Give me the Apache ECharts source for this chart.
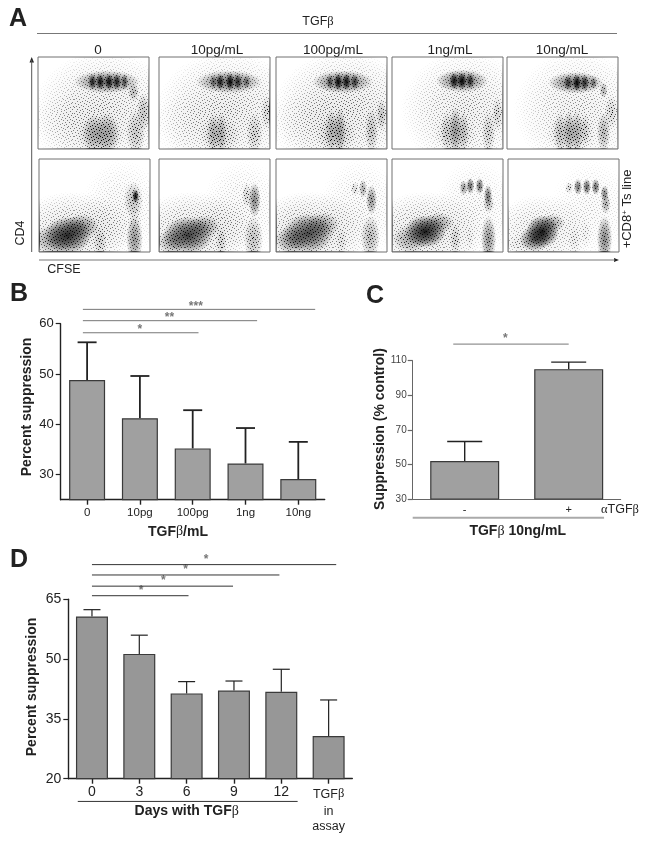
<!DOCTYPE html>
<html><head><meta charset="utf-8">
<style>html,body{margin:0;padding:0;background:#fff}#c{width:649px;height:842px;filter:blur(0.35px)}</style>
<script src="https://cdn.jsdelivr.net/npm/echarts@6/dist/echarts.min.js"></script>
</head><body><div id="c"></div>
<script>
// ---------- Panel A: density clusters [x%, y%, widthUnits, heightUnits, density]
const topZero = [[60,42,105,105,.12],[30,25,60,60,.06],[62,73,48,20,.6],[49,73,6,14,.8],[56,73,6,14,.85],[64,73,6,14,.85],[71,73,6,14,.8],[78,73,5,14,.65],[86,62,8,16,.35],[95,40,10,34,.3],[50,17,16,34,.36],[62,17,18,36,.4],[56,15,34,34,.22],[88,18,14,40,.28]];
const topTen = [[62,42,105,105,.12],[30,25,60,60,.05],[63,73,48,20,.6],[49,73,5,12,.55],[55,73,6,14,.8],[64,73,6,15,.9],[71,73,6,14,.75],[79,73,5,12,.55],[97,40,8,30,.2],[49,17,10,34,.36],[56,17,8,36,.36],[86,17,12,36,.24],[55,15,30,34,.18]];
const topHundred = [[62,42,105,105,.13],[30,25,60,60,.06],[60,73,44,20,.6],[48.5,73,5,13,.65],[56,73,6,15,.9],[63.5,73,6,15,.85],[71,73,6,14,.7],[95,37,8,28,.3],[50,20,10,38,.34],[57.5,20,9,40,.42],[86,20,10,40,.3],[54,16,30,34,.2]];
const topOne = [[66,42,95,105,.11],[63,74,38,20,.6],[56,74,7,15,.85],[63,74,7,15,.9],[70.5,74,6,14,.75],[95,38,8,30,.22],[87,18,10,38,.25],[50,19,10,36,.25],[57,20,9,42,.46],[64,19,9,36,.3],[57,17,30,34,.16]];
const topTenNg = [[64,42,95,105,.1],[62,72,40,19,.6],[55,72,6,13,.7],[63,72,6,15,.9],[70,72,6,14,.75],[78,72,5,11,.55],[87,64,6,14,.4],[94,40,10,30,.2],[48,18,10,36,.3],[56,18,9,38,.42],[63,18,9,38,.38],[70,21,8,28,.22],[87,18,10,36,.36],[58,16,36,34,.16]];
const lowZero = [[30,22,85,70,.14],[13,13,30,26,.45],[26,18,34,32,.8],[38,27,26,22,.5],[55,11,10,26,.22],[87,60,5,12,1],[85,56,14,32,.32],[86,14,12,40,.5],[75,45,60,90,.06],[86,35,10,30,.12],[60,30,50,50,.05]];
const lowTen = [[30,22,85,70,.14],[11,11,20,22,.4],[26,18,36,32,.75],[40,27,24,20,.45],[56,11,8,26,.22],[86,56,9,30,.55],[79,61,7,22,.22],[85,14,14,40,.32],[75,45,60,90,.06],[60,30,50,50,.05]];
const lowHundred = [[30,22,85,70,.15],[14,13,24,24,.5],[29,20,36,34,.72],[42,29,24,22,.42],[59,11,8,24,.14],[78.4,68,6,16,.42],[71,68,6,12,.2],[86,56,8,26,.5],[85,16,14,38,.36],[75,45,60,90,.06]];
const lowOne = [[30,22,85,70,.14],[16.5,14,26,24,.4],[30,22,30,28,.85],[42,31,22,18,.42],[57,14,8,28,.22],[70,15,6,22,.08],[64.5,69,6,13,.5],[70.5,71,6,14,.65],[79,71,6,14,.65],[86.5,61,6,18,.6],[87,52,8,16,.35],[87,14,11,40,.5],[75,45,60,90,.06]];
const lowTenNg = [[30,22,75,65,.11],[12,9,24,16,.1],[24,14,22,22,.65],[31,22,24,28,.85],[40,31,18,16,.4],[55,69,6,10,.22],[63,70,6,14,.62],[71,70,6,14,.68],[79,70,6,14,.65],[87,63,6,14,.55],[88,52,7,18,.42],[87,14,11,40,.55],[60,13,10,26,.1],[70,20,8,26,.07],[75,45,60,90,.05]];
const topClusters = [topZero, topTen, topHundred, topOne, topTenNg];
const lowClusters = [lowZero, lowTen, lowHundred, lowOne, lowTenNg];
const doseHeaders = ['0','10pg/mL','100pg/mL','1ng/mL','10ng/mL'];

// ---------- Panel B
const bCats = ['0','10pg','100pg','1ng','10ng'];
const bMeans = [48.8,41.2,35.2,32.2,29.1];
const bUppers = [56.3,49.6,42.8,39.25,36.5];
const bTicks = [30,40,50,60];
const bBrackets = [[-0.08,2.11,58.2,1.0,1],[-0.08,3.22,60.6,1.56,2],[-0.08,4.32,62.85,2.06,3]];
// ---------- Panel C
const cCats = ['-','+'];
const cMeans = [52,105.1];
const cUppers = [63.3,109.2];
const cTicks = [30,50,70,90,110];
const cBrackets = [[-0.11,1,119.6,0.39,1],[-0.5,1.34,19.2,0,0]];
// ---------- Panel D
const dCats = ['0','3','6','9','12','TGFβ\nin\nassay'];
const dMeans = [60.7,51.3,41.4,42.1,41.8,30.7];
const dUppers = [62.4,56,44.35,44.5,47.45,39.75];
const dTicks = [20,35,50,65];
const dBrackets = [[0,2.04,65.9,1.04,1],[0,2.98,68.3,1.51,1],[0,3.96,71.1,1.98,1],[0,5.16,73.7,2.41,1],[-0.3,4.345,14.3,0,0]];

// Speckle tile typed by hand: each row lists the columns where the cluster density shows through
const speckle = [[2,9,17,24,33],[5,13,20,29],[0,8,15,26,35],[3,11,19,23,31],[6,14,27,34],[1,10,18,22,30],[4,12,25,32,36],[7,16,21,28],[2,9,14,24,33],[5,19,26,30,35],[0,11,17,22],[3,8,13,28,32],[6,15,20,25,36],[1,10,23,29,34],[4,12,18,27],[7,16,21,31,35],[2,9,24,30],[0,5,14,19,26,33],[11,17,22,28],[3,8,13,25,36],[6,15,20,31,34],[1,10,18,27],[4,12,23,29,35],[7,16,21,32],[2,9,14,25,30],[0,5,19,26,33,36],[11,17,22,28],[3,8,13,24,31],[6,15,20,29,35],[1,10,18,27,34],[4,12,23,32],[7,16,21,26,30],[2,9,14,25,36],[0,5,19,28,33],[11,17,22,31],[3,8,13,24,29,35],[6,15,20,27]];

function grainCanvas(){
  const n = speckle.length, cv = document.createElement('canvas');
  cv.width = n; cv.height = n;
  const g = cv.getContext('2d');
  g.fillStyle='rgba(255,255,255,0.96)'; g.fillRect(0,0,n,n);
  speckle.forEach((row,j)=>row.forEach(i=>g.clearRect(i,j,1,1)));
  return cv;
}

const SANS = '"Liberation Sans", Arial, sans-serif';
const chart = echarts.init(document.getElementById('c'),null,{renderer:'canvas'});
const grids=[],xAxes=[],yAxes=[],series=[],graphics=[];
const soft = new echarts.graphic.RadialGradient(0.5,0.5,0.5,[{offset:0,color:'rgba(0,0,0,1)'},{offset:0.5,color:'rgba(0,0,0,0.6)'},{offset:1,color:'rgba(0,0,0,0)'}]);

const topBoxes = [[38,57,111,92],[159,57,111,92],[276,57,111,92],[392,57,111,92],[507,57,111,92]];
const lowBoxes = [[39,159,111,93],[159,159,111,93],[276,159,111,93],[392,159,111,93],[508,159,111,93]];
const grain = {image:grainCanvas(),repeat:'repeat'};

function addFlow(box,blobs){
  const gi=grids.length;
  grids.push({left:box[0],top:box[1],width:box[2],height:box[3],show:true,borderColor:'#707070',borderWidth:1,backgroundColor:'#fff',containLabel:false});
  xAxes.push({gridIndex:gi,type:'value',min:0,max:100,show:false});
  yAxes.push({gridIndex:gi,type:'value',min:0,max:100,show:false});
  const render=(op)=>(p,api)=>{
    const c=api.coord([api.value(0),api.value(1)]),s=api.size([api.value(2),api.value(3)]),o=op(api.value(4));
    return {type:'circle',shape:{cx:0,cy:0,r:10},x:c[0],y:c[1],scaleX:s[0]*0.062,scaleY:s[1]*0.062,style:{fill:soft,opacity:o}};
  };
  const common={type:'custom',xAxisIndex:xAxes.length-1,yAxisIndex:yAxes.length-1,silent:true,clip:true,animation:false,data:blobs};
  series.push(Object.assign({},common,{z:2,renderItem:render(d=>Math.min(1,d*5))}));
  series.push(Object.assign({},common,{z:4,renderItem:render(d=>Math.min(1,Math.pow(d,1.5)*1.15))}));
  graphics.push({type:'rect',shape:{x:box[0]+1,y:box[1]+1,width:box[2]-2,height:box[3]-2},style:{fill:grain},z:3,silent:true});
}
topBoxes.forEach((b,i)=>addFlow(b,topClusters[i]));
lowBoxes.forEach((b,i)=>addFlow(b,lowClusters[i]));

function addBars(o){
  const gi=grids.length;
  grids.push({left:o.left,top:o.top,width:o.width,height:o.height,containLabel:false});
  const catIdx=xAxes.length;
  xAxes.push({gridIndex:gi,type:'category',data:o.cats,axisLine:{onZero:false,lineStyle:{color:o.axisColor||'#222',width:o.axisW||1.4}},axisTick:{show:!o.noXTick,alignWithLabel:true,length:5,lineStyle:{color:'#222',width:o.axisW||1.4}},axisLabel:Object.assign({color:'#222',fontSize:o.xFont,fontFamily:SANS,margin:o.xMargin||7,interval:0},o.xLabel||{})});
  const valIdx=xAxes.length;
  xAxes.push({gridIndex:gi,type:'value',min:-0.5,max:o.cats.length-0.5,show:false});
  const yIdx=yAxes.length;
  yAxes.push({gridIndex:gi,type:'value',min:o.min,max:o.max,splitLine:{show:false},
    axisLine:{show:true,onZero:false,lineStyle:{color:o.axisColor||'#222',width:o.axisW||1.4}},
    axisTick:{show:true,length:5,customValues:o.ticks,lineStyle:{color:o.axisColor||'#222',width:1.2}},
    axisLabel:{customValues:o.ticks,color:o.yLabelColor||'#222',fontSize:o.yFont,fontFamily:SANS,margin:o.yMargin||7}});
  series.push({type:'bar',xAxisIndex:catIdx,yAxisIndex:yIdx,data:o.means,barWidth:o.barW,silent:true,animation:false,z:3,
    itemStyle:{color:o.fill,borderColor:'#3a3a3a',borderWidth:o.barBorder||1.2}});
  series.push({type:'custom',xAxisIndex:valIdx,yAxisIndex:yIdx,silent:true,animation:false,z:2,clip:false,
    data:o.means.map((m,i)=>[i,m,o.uppers[i]]),
    renderItem:(p,api)=>{
      const a=api.coord([api.value(0),api.value(1)]),b=api.coord([api.value(0),api.value(2)]);
      const s={stroke:'#222',lineWidth:o.errW};
      return {type:'group',children:[
        {type:'line',shape:{x1:b[0],y1:a[1],x2:b[0],y2:b[1]},style:s},
        {type:'line',shape:{x1:b[0]-o.cap/2,y1:b[1],x2:b[0]+o.cap/2,y2:b[1]},style:s}]};
    }});
  series.push({type:'custom',xAxisIndex:valIdx,yAxisIndex:yIdx,silent:true,animation:false,z:2,clip:false,
    data:o.brackets,
    renderItem:(p,api)=>{
      const a=api.coord([api.value(0),api.value(2)]),b=api.coord([api.value(1),api.value(2)]);
      const n=api.value(4);
      const kids=[{type:'line',shape:{x1:a[0],y1:a[1],x2:b[0],y2:b[1]},style:{stroke:n>0?o.ruleColor:(o.underColor||o.ruleColor),lineWidth:n>0?1:(o.underW||1)}}];
      if(n>0){const c=api.coord([api.value(3),api.value(2)]);
        kids.push({type:'text',style:{x:c[0],y:a[1]-o.starUp,text:'*'.repeat(n),fill:'#777',font:'bold 12px '+SANS,textAlign:'center',textVerticalAlign:'middle',align:'center',verticalAlign:'middle'}});}
      return {type:'group',children:kids};
    }});
}
const betaRich={a:{fontSize:12.5,fontFamily:SANS,lineHeight:19,color:'#222'},g:{fontSize:12.5,fontFamily:'"Liberation Serif", serif',lineHeight:19,color:'#222'},t:{fontSize:12.5,fontFamily:SANS,lineHeight:15.5,color:'#222'}};
addBars({left:60.7,top:323.7,width:264,height:176,cats:bCats,means:bMeans,uppers:bUppers,ticks:bTicks,brackets:bBrackets,min:25,max:60,barW:36,cap:19,errW:1.8,fill:'#a0a0a0',xFont:11.5,yFont:13,ruleColor:'#777',starUp:3});
addBars({left:412.7,top:360.7,width:208,height:138.3,cats:cCats,means:cMeans,uppers:cUppers,ticks:cTicks,brackets:cBrackets,min:30,max:110,barW:69,cap:35,errW:1.4,fill:'#a0a0a0',xFont:11,yFont:10,ruleColor:'#777',underColor:'#aaa',underW:2,starUp:5,axisW:1,axisColor:'#666',yLabelColor:'#444',noXTick:true,xMargin:5,yMargin:6});
addBars({left:68.3,top:599.3,width:284,height:179.4,cats:dCats,means:dMeans,uppers:dUppers,ticks:dTicks,brackets:dBrackets,min:20,max:65,barW:32,cap:17,errW:1.2,fill:'#979797',xFont:14,yFont:14,ruleColor:'#333',starUp:5,xMargin:6,
  xLabel:{formatter:v=>v.indexOf('\n')<0?v:'{a|TGF}{g|β}\n{t|in}\n{t|assay}',rich:betaRich}});

function T(text,x,y,font,extra){
  const st=Object.assign({text,font,fill:'#222',textAlign:'center',textVerticalAlign:'middle',align:'center',verticalAlign:'middle'},(extra&&extra.style)||{});
  const el={type:'text',x,y,z:6,silent:true,style:st};
  if(extra&&extra.rotation)el.rotation=extra.rotation;
  graphics.push(el);
}
const serifRich=(size,w)=>({n:{font:(w||'normal')+' '+size+'px '+SANS,fill:'#222'},g:{font:'normal '+size+'px "Liberation Serif", serif',fill:'#222'}});
// panel letters
T('A',18,19,'bold 25px '+SANS);T('B',19,294,'bold 25px '+SANS);T('C',375,296,'bold 25px '+SANS);T('D',19,560,'bold 25px '+SANS);
// panel A texts
T('{n|TGF}{g|β}',318,22,'12.5px '+SANS,{style:{rich:serifRich(12.5)}});
doseHeaders.forEach((h,i)=>T(h,[98,217,333,450,562][i],50,'13.5px '+SANS));
T('CD4',21,233,'12.5px '+SANS,{rotation:Math.PI/2});
T('CFSE',64,270,'12.5px '+SANS);
T('{n|+CD8}{s|+}{n| Ts line}',627,209,'13px '+SANS,{rotation:Math.PI/2,style:{rich:{n:{font:'13px '+SANS,fill:'#222'},s:{font:'8px '+SANS,fill:'#222',verticalAlign:'top'}}}});
const rule=(x1,y1,x2,y2,c,w)=>graphics.push({type:'line',shape:{x1,y1,x2,y2},style:{stroke:c,lineWidth:w||1},silent:true,z:1});
rule(37,33.5,617,33.5,'#777');
rule(31.7,60,31.7,252,'#555');
rule(39,260,615,260,'#777');
graphics.push({type:'polygon',shape:{points:[[31.7,57],[29.5,62.5],[34,62.5]]},style:{fill:'#222'},silent:true});
graphics.push({type:'polygon',shape:{points:[[619,260],[614,258],[614,262]]},style:{fill:'#222'},silent:true});
// axis titles
T('Percent suppression',26.7,407,'bold 14px '+SANS,{rotation:Math.PI/2});
T('{n|TGF}{g|β}{n|/mL}',178,531.7,'bold 14px '+SANS,{style:{rich:serifRich(14,'bold')}});
T('Suppression (% control)',380,429,'bold 14px '+SANS,{rotation:Math.PI/2});
T('{n|TGF}{g|β}{n| 10ng/mL}',517.7,531,'bold 14px '+SANS,{style:{rich:serifRich(14,'bold')}});
T('{g|α}{n|TGF}{g|β}',620,509.5,'12.5px '+SANS,{style:{rich:serifRich(12.5)}});
T('Percent suppression',32.3,687,'bold 14px '+SANS,{rotation:Math.PI/2});
T('{n|Days with TGF}{g|β}',186.7,811,'bold 14px '+SANS,{style:{rich:serifRich(14,'bold')}});

chart.setOption({animation:false,backgroundColor:'#fff',grid:grids,xAxis:xAxes,yAxis:yAxes,series,graphic:{elements:graphics}});
</script></body></html>
